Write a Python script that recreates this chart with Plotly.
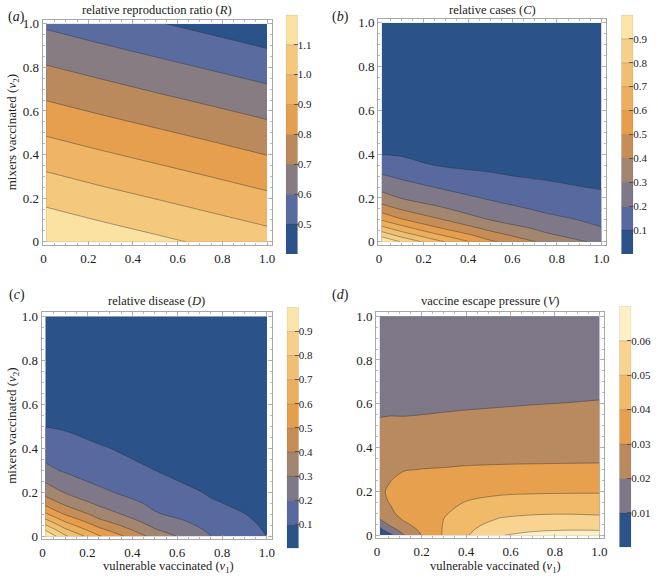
import plotly.graph_objects as go

W, H = 658, 581

# ---------------- data ----------------
# (a) relative reproduction ratio R
R_v1 = [0.012, 0.25, 0.5, 0.75, 1.0]
R_v2 = [0.0, 0.25, 0.5, 0.75, 1.0]
R_z = [
    [1.197, 1.159, 1.121, 1.082, 1.044],
    [1.044, 1.005, 0.967, 0.929, 0.890],
    [0.890, 0.852, 0.814, 0.776, 0.737],
    [0.737, 0.699, 0.660, 0.622, 0.584],
    [0.584, 0.545, 0.507, 0.469, 0.430],
]
R_levels = [0.5, 0.6, 0.7, 0.8, 0.9, 1.0, 1.1]
R_cbar = [0.40, 1.20]

# (b) relative cases C
C_v1 = [0.012, 0.1, 0.25, 0.5, 0.75, 1.0]
C_v2 = [0.0, 0.03, 0.06, 0.1, 0.15, 0.2, 0.25, 0.3, 0.35, 0.4, 0.5, 0.7, 1.0]
C_z = [
    [1.000, 0.893, 0.738, 0.518, 0.374, 0.274],
    [0.868, 0.763, 0.625, 0.442, 0.316, 0.239],
    [0.742, 0.650, 0.523, 0.376, 0.275, 0.205],
    [0.593, 0.512, 0.421, 0.299, 0.229, 0.178],
    [0.448, 0.391, 0.321, 0.242, 0.182, 0.147],
    [0.342, 0.297, 0.255, 0.189, 0.147, 0.116],
    [0.268, 0.240, 0.198, 0.147, 0.111, 0.095],
    [0.210, 0.182, 0.146, 0.105, 0.093, 0.085],
    [0.146, 0.123, 0.099, 0.091, 0.083, 0.075],
    [0.097, 0.094, 0.089, 0.081, 0.073, 0.065],
    [0.077, 0.074, 0.069, 0.061, 0.053, 0.045],
    [0.037, 0.034, 0.029, 0.021, 0.013, 0.010],
    [0.012, 0.011, 0.010, 0.010, 0.010, 0.010],
]
C_levels = [0.1, 0.2, 0.3, 0.4, 0.5, 0.6, 0.7, 0.8, 0.9]
C_cbar = [0.0, 1.0]

# (c) relative disease D
D_v1 = [0.012, 0.1, 0.25, 0.5, 0.75, 1.0]
D_v2 = [0.0, 0.025, 0.05, 0.075, 0.1, 0.15, 0.2, 0.3, 0.4, 0.5, 0.7, 1.0]
D_z = [
    [1.000, 0.817, 0.612, 0.362, 0.200, 0.099],
    [0.907, 0.732, 0.540, 0.314, 0.185, 0.093],
    [0.808, 0.649, 0.472, 0.276, 0.170, 0.087],
    [0.711, 0.568, 0.409, 0.243, 0.155, 0.081],
    [0.619, 0.493, 0.361, 0.209, 0.139, 0.076],
    [0.466, 0.378, 0.280, 0.178, 0.109, 0.066],
    [0.360, 0.293, 0.217, 0.152, 0.090, 0.058],
    [0.224, 0.188, 0.156, 0.100, 0.068, 0.045],
    [0.155, 0.133, 0.105, 0.080, 0.052, 0.036],
    [0.098, 0.091, 0.078, 0.060, 0.042, 0.029],
    [0.050, 0.043, 0.035, 0.032, 0.025, 0.018],
    [0.020, 0.018, 0.015, 0.013, 0.011, 0.008],
]
D_levels = [0.1, 0.2, 0.3, 0.4, 0.5, 0.6, 0.7, 0.8, 0.9]
D_cbar = [0.0, 1.0]

# (d) vaccine escape pressure V
V_v1 = [0.012, 0.06, 0.12, 0.2, 0.3, 0.4, 0.55, 0.7, 0.85, 1.0]
V_v2 = [0.0, 0.025, 0.05, 0.075, 0.1, 0.15, 0.2, 0.25, 0.3, 0.35, 0.45, 0.55, 0.65, 0.8, 1.0]
V_z = [
    [0.0035, 0.0075, 0.0195, 0.0300, 0.0410, 0.0490, 0.0595, 0.0625, 0.0640, 0.0645],
    [0.0075, 0.0155, 0.0245, 0.0318, 0.0407, 0.0478, 0.0566, 0.0587, 0.0596, 0.0594],
    [0.0135, 0.0222, 0.0285, 0.0332, 0.0404, 0.0463, 0.0535, 0.0555, 0.0562, 0.0557],
    [0.0205, 0.0260, 0.0310, 0.0343, 0.0400, 0.0447, 0.0504, 0.0522, 0.0527, 0.0521],
    [0.0245, 0.0283, 0.0330, 0.0350, 0.0392, 0.0430, 0.0478, 0.0491, 0.0495, 0.0490],
    [0.0275, 0.0305, 0.0350, 0.0355, 0.0375, 0.0403, 0.0428, 0.0438, 0.0441, 0.0440],
    [0.0287, 0.0312, 0.0352, 0.0348, 0.0355, 0.0372, 0.0384, 0.0389, 0.0391, 0.0392],
    [0.0282, 0.0298, 0.0325, 0.0328, 0.0333, 0.0342, 0.0348, 0.0351, 0.0352, 0.0354],
    [0.0268, 0.0280, 0.0295, 0.0301, 0.0304, 0.0308, 0.0311, 0.0313, 0.0314, 0.0315],
    [0.0253, 0.0263, 0.0272, 0.0279, 0.0282, 0.0285, 0.0287, 0.0288, 0.0289, 0.0290],
    [0.0227, 0.0234, 0.0240, 0.0241, 0.0244, 0.0247, 0.0249, 0.0251, 0.0253, 0.0255],
    [0.0196, 0.0198, 0.0197, 0.0200, 0.0203, 0.0206, 0.0210, 0.0214, 0.0217, 0.0221],
    [0.0172, 0.0173, 0.0174, 0.0175, 0.0176, 0.0178, 0.0180, 0.0183, 0.0186, 0.0190],
    [0.0146, 0.0147, 0.0148, 0.0149, 0.0150, 0.0152, 0.0154, 0.0156, 0.0158, 0.0160],
    [0.0116, 0.0117, 0.0118, 0.0118, 0.0119, 0.0120, 0.0122, 0.0123, 0.0124, 0.0125],
]
V_levels = [0.01, 0.02, 0.03, 0.04, 0.05, 0.06]
V_cbar = [0.0, 0.07]

tick_vals = [0, 0.2, 0.4, 0.6, 0.8, 1.0]
tick_text = ["0", "0.2", "0.4", "0.6", "0.8", "1.0"]

# ---------------- styles ----------------
R_colors = ['#2b5289', '#5a6c9f', '#877c82', '#bb8a5c', '#e59f4e', '#efb565', '#f5c97d', '#fbe2a2']
C_colors = ['#2b5289', '#5869a0', '#7e7888', '#a2866f', '#c68d57', '#e69e4c', '#ecaf5e',
            '#f1bf71', '#f6d089', '#fbe5a9']
D_colors = C_colors
V_colors = ['#2b5289', '#7d7787', '#b98a5f', '#e6a04e', '#f0ba69', '#f8d490', '#fdf0c4']

SERIF = "Liberation Serif"
FRAME = "#a8a8a8"
TXT = "#222222"

panels = [
    dict(x=R_v1, y=R_v2, z=R_z, levels=R_levels, colors=R_colors, cb=R_cbar,
         frame=(41, 272, 17, 245), cbpx=(286, 298, 12, 254),
         title="relative reproduction ratio (<i>R</i>)", label="(<i>a</i>)", fmt="{:.1f}"),
    dict(x=C_v1, y=C_v2, z=C_z, levels=C_levels, colors=C_colors, cb=C_cbar,
         frame=(379, 609, 16, 245), cbpx=(624, 636, 12, 254),
         title="relative cases (<i>C</i>)", label="(<i>b</i>)", fmt="{:.1f}"),
    dict(x=D_v1, y=D_v2, z=D_z, levels=D_levels, colors=D_colors, cb=D_cbar,
         frame=(40, 272, 313, 543), cbpx=(287, 299, 308, 552),
         title="relative disease (<i>D</i>)", label="(<i>c</i>)", fmt="{:.1f}"),
    dict(x=V_v1, y=V_v2, z=V_z, levels=V_levels, colors=V_colors, cb=V_cbar,
         frame=(377, 607, 313, 542), cbpx=(622, 634, 307, 551),
         title="vaccine escape pressure (<i>V</i>)", label="(<i>d</i>)", fmt="{:.2f}"),
]

fig = go.Figure()
layout = dict(
    width=W, height=H, margin=dict(l=0, r=0, t=0, b=0),
    paper_bgcolor="white", plot_bgcolor="white",
    showlegend=False, barmode="overlay",
    font=dict(family=SERIF, color=TXT),
)
annotations = []


def px2x(px):
    return px / W


def px2y(py):
    return 1 - py / H


for i, p in enumerate(panels):
    k = i + 1
    ax = "" if k == 1 else str(k)
    lv = p["levels"]
    nlev = len(lv)
    step = round(lv[1] - lv[0], 6)
    cs = [[j / nlev, c] for j, c in enumerate(p["colors"])]
    fig.add_trace(go.Contour(
        x=p["x"], y=p["y"], z=p["z"],
        xaxis="x" + ax, yaxis="y" + ax,
        autocontour=False,
        contours=dict(start=lv[0], end=lv[-1], size=step, coloring="fill", showlines=True),
        line=dict(color="rgba(45,45,45,0.6)", width=0.7, smoothing=0.9),
        colorscale=cs, showscale=False, hoverinfo="skip",
    ))
    x0, x1, yt, yb = p["frame"]
    common = dict(showline=True, linecolor=FRAME, linewidth=1, mirror="allticks",
                  ticks="inside", ticklen=4, tickwidth=0.8, tickcolor=FRAME,
                  showgrid=False, zeroline=False,
                  tickvals=tick_vals, ticktext=tick_text,
                  tickfont=dict(family=SERIF, size=13, color=TXT),
                  minor=dict(ticks="inside", ticklen=2, tickcolor=FRAME, dtick=0.05,
                             tick0=0, showgrid=False))
    layout["xaxis" + ax] = dict(domain=[px2x(x0), px2x(x1)], range=[-0.004, 1.022],
                                anchor="y" + ax, ticklabelstandoff=1, **common)
    layout["yaxis" + ax] = dict(domain=[px2y(yb), px2y(yt)], range=[-0.015, 1.018],
                                anchor="x" + ax, **common)

    # colour bar drawn as stacked bars on its own axes
    kb = k + 4
    bounds = [p["cb"][0]] + lv + [p["cb"][1]]
    lows = bounds[:-1]
    heights = [bounds[j + 1] - bounds[j] for j in range(len(bounds) - 1)]
    fig.add_trace(go.Bar(
        x=[0] * len(heights), y=heights, base=lows, width=1,
        marker=dict(color=p["colors"], line=dict(width=0.4, color="rgba(60,60,60,0.45)")),
        xaxis="x%d" % kb, yaxis="y%d" % kb, hoverinfo="skip", showlegend=False,
    ))
    cx0, cx1, cyt, cyb = p["cbpx"]
    layout["xaxis%d" % kb] = dict(domain=[px2x(cx0), px2x(cx1)], range=[-0.5, 0.5],
                                  visible=False, anchor="y%d" % kb, fixedrange=True)
    layout["yaxis%d" % kb] = dict(domain=[px2y(cyb), px2y(cyt)], range=p["cb"],
                                  anchor="x%d" % kb, side="right",
                                  tickvals=lv, ticktext=[p["fmt"].format(v) for v in lv],
                                  ticks="inside", ticklen=4, tickwidth=0.8, tickcolor="#444",
                                  ticklabelstandoff=-1,
                                  showline=False, showgrid=False, zeroline=False,
                                  tickfont=dict(family=SERIF, size=11, color=TXT))

    ty = 7 if k <= 2 else 302
    annotations.append(dict(text=p["title"], x=px2x((x0 + x1) / 2), y=px2y(ty),
                            xref="paper", yref="paper", showarrow=False,
                            xanchor="center", yanchor="middle",
                            font=dict(family=SERIF, size=12.5, color=TXT)))
    lx = 15 if k in (1, 3) else 341
    ly = 14 if k <= 2 else 296
    annotations.append(dict(text=p["label"], x=px2x(lx), y=px2y(ly), xref="paper", yref="paper",
                            showarrow=False, xanchor="center", yanchor="middle",
                            font=dict(family=SERIF, size=14, color=TXT)))

# axis titles
for cy in (131, 428):
    annotations.append(dict(text="mixers vaccinated (<i>v</i><sub>2</sub>)", x=px2x(11), y=px2y(cy),
                            xref="paper", yref="paper", showarrow=False, textangle=-90,
                            xanchor="center", yanchor="middle",
                            font=dict(family=SERIF, size=13, color=TXT)))
for cx in (168, 497):
    annotations.append(dict(text="vulnerable vaccinated (<i>v</i><sub>1</sub>)", x=px2x(cx), y=px2y(571),
                            xref="paper", yref="paper", showarrow=False,
                            xanchor="center", yanchor="middle",
                            font=dict(family=SERIF, size=12.5, color=TXT)))

layout["annotations"] = annotations
fig.update_layout(**layout)
fig.write_html("out.html", config={"staticPlot": True, "displayModeBar": False},
               post_script="document.body.style.margin='0px';document.body.style.padding='0px';")
